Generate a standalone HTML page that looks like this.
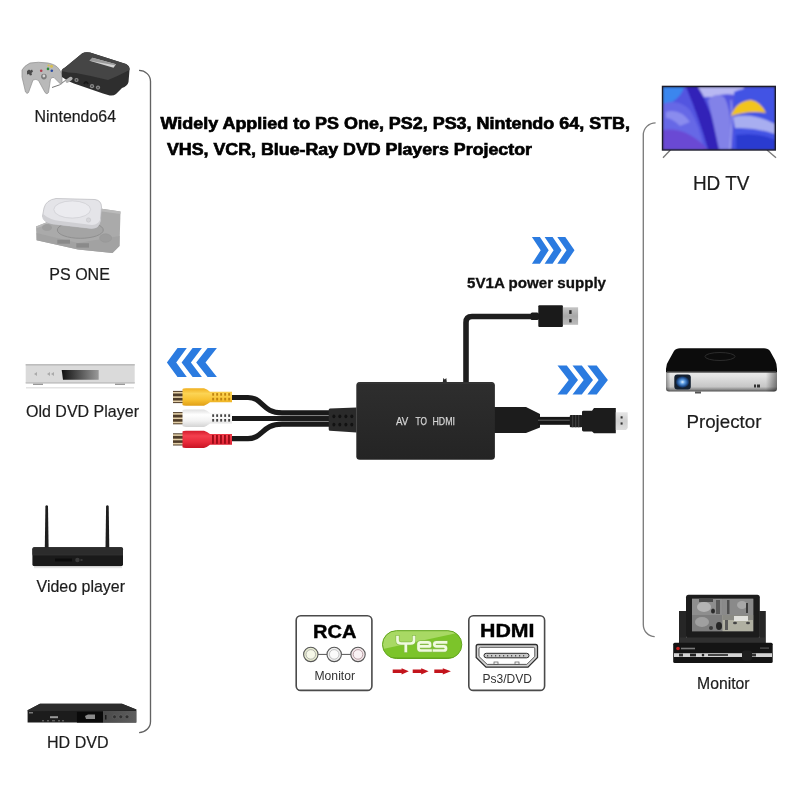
<!DOCTYPE html>
<html><head><meta charset="utf-8">
<style>
html,body{margin:0;padding:0;background:#fff;}
body{width:800px;height:800px;overflow:hidden;position:relative;font-family:"Liberation Sans",sans-serif;}
svg{position:absolute;left:0;top:0;will-change:transform;}
</style></head>
<body>
<svg width="800" height="800" viewBox="0 0 800 800" font-family="Liberation Sans, sans-serif">
<defs>
  <linearGradient id="boxg" x1="0" y1="0" x2="0" y2="1">
    <stop offset="0" stop-color="#2e2e2e"/><stop offset="1" stop-color="#242424"/>
  </linearGradient>
  <linearGradient id="yesg" x1="0" y1="0" x2="0" y2="1">
    <stop offset="0" stop-color="#a6dc5c"/><stop offset="0.5" stop-color="#8ccc3c"/><stop offset="0.55" stop-color="#78c024"/><stop offset="1" stop-color="#62a818"/>
  </linearGradient>
  <linearGradient id="dispg" x1="0" y1="0" x2="1" y2="0">
    <stop offset="0" stop-color="#111"/><stop offset="1" stop-color="#9a9a9a"/>
  </linearGradient>
  <linearGradient id="tvg" x1="0" y1="0" x2="1" y2="1">
    <stop offset="0" stop-color="#5a6af0"/><stop offset="0.5" stop-color="#4a3ed8"/><stop offset="1" stop-color="#3a48e0"/>
  </linearGradient>
  <radialGradient id="lensg" cx="0.5" cy="0.5" r="0.5">
    <stop offset="0" stop-color="#e0f0ff"/><stop offset="0.35" stop-color="#5a9ae0"/><stop offset="0.75" stop-color="#1c4a8a"/><stop offset="1" stop-color="#142030"/>
  </radialGradient>
  <linearGradient id="projs" x1="0" y1="0" x2="0" y2="1">
    <stop offset="0" stop-color="#f4f4f4"/><stop offset="0.35" stop-color="#e2e2e2"/><stop offset="0.8" stop-color="#c6c6c6"/><stop offset="0.92" stop-color="#8a8a8a"/><stop offset="1" stop-color="#505050"/>
  </linearGradient>
  <linearGradient id="projh" x1="0" y1="0" x2="1" y2="0">
    <stop offset="0" stop-color="#000" stop-opacity="0.35"/><stop offset="0.04" stop-color="#000" stop-opacity="0"/><stop offset="0.9" stop-color="#000" stop-opacity="0"/><stop offset="1" stop-color="#000" stop-opacity="0.45"/>
  </linearGradient>
  <filter id="tvblur" x="-5%" y="-5%" width="110%" height="110%"><feGaussianBlur stdDeviation="0.9"/></filter>
  <linearGradient id="yelg" x1="0" y1="0" x2="0" y2="1"><stop offset="0" stop-color="#f0b020"/><stop offset="0.3" stop-color="#fcd454"/><stop offset="0.65" stop-color="#f8c232"/><stop offset="1" stop-color="#e0a018"/></linearGradient>
  <linearGradient id="whig" x1="0" y1="0" x2="0" y2="1"><stop offset="0" stop-color="#e0e0e0"/><stop offset="0.3" stop-color="#ffffff"/><stop offset="0.65" stop-color="#f2f2f2"/><stop offset="1" stop-color="#d4d4d4"/></linearGradient>
  <linearGradient id="redg" x1="0" y1="0" x2="0" y2="1"><stop offset="0" stop-color="#d41c2c"/><stop offset="0.3" stop-color="#f4404e"/><stop offset="0.65" stop-color="#e82a3a"/><stop offset="1" stop-color="#c81424"/></linearGradient>
  <filter id="scrblur" x="-5%" y="-5%" width="110%" height="110%"><feGaussianBlur stdDeviation="0.6"/></filter>
  <linearGradient id="usbm" x1="0" y1="0" x2="0" y2="1"><stop offset="0" stop-color="#c4c4c4"/><stop offset="0.5" stop-color="#a8a8a8"/><stop offset="1" stop-color="#bcbcbc"/></linearGradient>
  <linearGradient id="hdmim" x1="0" y1="0" x2="0" y2="1"><stop offset="0" stop-color="#e6e6e6"/><stop offset="0.5" stop-color="#cfcfcf"/><stop offset="1" stop-color="#dedede"/></linearGradient>
  <linearGradient id="hdpan" x1="0" y1="0" x2="1" y2="0"><stop offset="0" stop-color="#4a4a4a"/><stop offset="1" stop-color="#5e5e5e"/></linearGradient>
</defs>

<!-- brackets -->
<path d="M139,70.4 A11.5,11 0 0 1 150.5,81.4 L150.5,721.4 A11.4,11.2 0 0 1 139.1,732.6" fill="none" stroke="#626262" stroke-width="1.35"/>
<path d="M655.6,122.8 A12.3,12.2 0 0 0 643.3,135 L643.3,624.4 A11.4,12.2 0 0 0 654.7,636.6" fill="none" stroke="#7c7c7c" stroke-width="1.35"/>

<!-- ========== LEFT COLUMN ========== -->
<!-- N64 controller -->
<g>
  <path d="M66,80 Q60,86 52,87.5" fill="none" stroke="#666" stroke-width="0.9"/>
  <path d="M22,70 Q24,66 30,63 Q38,61.5 48,63 Q56,64.5 59,69 Q61,72 62,74 L62,82 Q62,85 60.5,84 L54,77.5 Q52,77 50.5,79 L48.5,92.5 Q47,95 45,92.5 L38.5,80.5 Q36,78.5 33,80 L28.5,92.5 Q27,94.5 25.5,92 L22,77 Z" fill="#b9b9b9" stroke="#8e8e8e" stroke-width="0.7"/>
  <path d="M27,71 l2,-1.5 l1.5,1 l1.5,-1 l1,2 l-1.5,1.5 l0.5,2 l-2,0.5 l-1,-1.5 l-2,0.5 z" fill="#4a4a4a"/>
  <circle cx="41.2" cy="70.8" r="1.3" fill="#b04050"/>
  <circle cx="48" cy="68.9" r="1.3" fill="#2a8a3a"/><circle cx="51.8" cy="70.8" r="1.3" fill="#2a4aa0"/>
  <circle cx="51.5" cy="66.3" r="1.5" fill="#d8c050"/><circle cx="48.5" cy="65.5" r="1.1" fill="#d8c050"/>
  <circle cx="43.9" cy="76.6" r="2.8" fill="#7a7a7a"/><circle cx="43.9" cy="76" r="1.4" fill="#d4d4d4"/>
</g>
<!-- N64 console -->
<g>
  <path d="M61.5,71 Q62,68.5 65,67.5 L82,53.5 Q85,51.5 90,52.5 L126,64 Q130,66 129.5,70 L128.5,82 Q127.5,86 122,88 L116,94 Q113,96.5 108,95 L103,93.5 L74,83.5 Q67,81 62,77 Z" fill="#2e2e2e"/>
  <path d="M61.5,71 Q62,68.5 65,67.5 L82,53.5 Q85,51.5 90,52.5 L126,64 Q130,66 129.5,70 Q118,76 108,80 Q92,76 76,73 Q68,73 61.5,71 Z" fill="#454545"/>
  <path d="M89.5,60.8 L92.5,57.8 L116,64.3 L113.5,67.8 Z" fill="#d2d2d2"/>
  <path d="M89.5,60.8 L92.5,57.8 L116,64.3 L115,65.3 Z" fill="#9a9a9a"/>
  <circle cx="76.5" cy="80" r="2.1" fill="#8a8a8a"/><circle cx="76.5" cy="80" r="0.9" fill="#444"/>
  <circle cx="92" cy="86.2" r="2.1" fill="#8a8a8a"/><circle cx="92" cy="86.2" r="0.9" fill="#444"/>
  <circle cx="98" cy="87.6" r="2.1" fill="#8a8a8a"/><circle cx="98" cy="87.6" r="0.9" fill="#444"/>
  <rect x="65" y="78" width="8" height="3.6" rx="1.8" fill="#b0b0b0" transform="rotate(-35 69 79.8)"/>
  <path d="M84,84 Q86,80 88,84" fill="none" stroke="#1a1a1a" stroke-width="2"/>
</g>
<text x="34.6" y="122" font-size="16.3" fill="#1c1c1c" stroke="#1c1c1c" stroke-width="0.2" textLength="81.4" lengthAdjust="spacingAndGlyphs">Nintendo64</text>

<!-- PS ONE -->
<g>
  <path d="M36,226.5 L60,217 L102,208.7 L120.5,211.5 L119.5,246 L112.5,253 L78,249.5 L36.6,240.3 Z" fill="#aaaaaa"/>
  <path d="M36.6,233 L78,243 L119.6,236 L119.5,246 L112.5,253 L78,249.5 L36.6,240.3 Z" fill="#a2a2a2"/>
  <path d="M36,226.5 L60,217 L102,208.7 L120.5,211.5 L120.3,214 L102,211.5 L60,219 L36,228.5 Z" fill="#bababa"/>
  <ellipse cx="80.3" cy="230" rx="23" ry="8.3" fill="#a4a4a4" stroke="#8c8c8c" stroke-width="0.9"/>
  <ellipse cx="47" cy="227.6" rx="5" ry="3.5" fill="#9e9e9e"/>
  <ellipse cx="105.6" cy="238" rx="6" ry="4.2" fill="#9c9c9c" stroke="#949494" stroke-width="0.5"/>
  <rect x="57.3" y="239.7" width="12.7" height="4" fill="#8a8a8a"/>
  <rect x="76.3" y="243.2" width="12.7" height="4.4" fill="#8a8a8a"/>
  <path d="M44,208 Q46,200 56,198.5 L95,199.5 Q101.5,200.5 101.5,207 L100.5,221 Q99,229 91,228.5 L52,224 Q43,222 42.5,216 Z" fill="#e4e4e8" stroke="#b8b8bc" stroke-width="0.7"/>
  <path d="M43,214 Q50,220 60,221 L92,225 Q99,225 100.7,218 L100.5,221 Q99,229 91,228.5 L52,224 Q43,222 42.5,216 Z" fill="#cfcfd3"/>
  <ellipse cx="72.2" cy="209.5" rx="18.4" ry="8.6" fill="#ebebef" stroke="#c8c8cc" stroke-width="0.6"/>
  <circle cx="88.5" cy="220" r="2.2" fill="#d6d6da" stroke="#bcbcc0" stroke-width="0.4"/>
</g>
<text x="49.3" y="279.7" font-size="16.4" fill="#1c1c1c" stroke="#1c1c1c" stroke-width="0.2" textLength="60.6" lengthAdjust="spacingAndGlyphs">PS ONE</text>

<!-- Old DVD player -->
<g>
  <rect x="26" y="387" width="108" height="1.5" fill="#e4e4e4"/>
  <rect x="33" y="383" width="10" height="2" fill="#999"/><rect x="115" y="383" width="10" height="2" fill="#999"/>
  <rect x="25.7" y="364" width="109" height="19.5" fill="#dadada"/>
  <rect x="25.7" y="364" width="109" height="1.6" fill="#bdbdbd"/>
  <rect x="25.7" y="382" width="109" height="1.5" fill="#c4c4c4"/>
  <path d="M61.7,370 L98.7,370 L98.7,379.7 L63,379.7 Z" fill="url(#dispg)"/>
  <path d="M34,374 l3,-2 l0,4z M47,374 l3,-2 l0,4z M51,374 l3,-2 l0,4z" fill="#aaa"/>
</g>
<text x="26" y="416.7" font-size="16.4" fill="#1c1c1c" stroke="#1c1c1c" stroke-width="0.2" textLength="113" lengthAdjust="spacingAndGlyphs">Old DVD Player</text>

<!-- Video player -->
<g>
  <path d="M45.4,506 Q46.7,504.5 48,506 L48.6,548 L44.8,548 Z" fill="#1e1e1e"/>
  <path d="M106.1,506 Q107.4,504.5 108.7,506 L109.3,548 L105.5,548 Z" fill="#1e1e1e"/>
  <rect x="32.4" y="547.3" width="90.6" height="19" rx="2" fill="#1a1a1a"/>
  <path d="M34,547.3 L121.5,547.3 Q123,547.3 123,549 L123,554.5 L32.4,554.5 L32.4,549 Q32.4,547.3 34,547.3 Z" fill="#2c2c2c"/>
  <rect x="32.4" y="554.5" width="90.6" height="0.8" fill="#3a3a3a"/>
  <path d="M55,558.5 L72,558.5 L72,561.5 L55,561.5 Z" fill="#0c0c0c"/>
  <circle cx="77.4" cy="560" r="2.2" fill="#3a3a3a"/>
  <rect x="80.5" y="559.5" width="2" height="1" fill="#555"/>
  <rect x="34" y="566.6" width="88" height="1.6" fill="#e6e6e6"/>
</g>
<text x="36.6" y="592" font-size="16.4" fill="#1c1c1c" stroke="#1c1c1c" stroke-width="0.2" textLength="88.4" lengthAdjust="spacingAndGlyphs">Video player</text>

<!-- HD DVD -->
<g>
  <path d="M27.6,710.3 L40,703.8 L122,703.8 L136.3,709.6 L136.3,722.6 L27.6,722.6 Z" fill="#1c1c1c"/>
  <path d="M27.6,710.3 L40,703.8 L122,703.8 L136.3,709.6 L136.3,710.6 L27.6,711.2 Z" fill="#2c2c2c"/>
  <rect x="76.9" y="711.8" width="26.1" height="10.8" fill="#0a0a0a"/>
  <rect x="103" y="711" width="33.3" height="11.6" fill="url(#hdpan)"/>
  <circle cx="114.5" cy="716.8" r="1.9" fill="#303030" stroke="#777" stroke-width="0.4"/>
  <circle cx="120.8" cy="716.8" r="1.9" fill="#303030" stroke="#777" stroke-width="0.4"/>
  <circle cx="127" cy="716.8" r="1.9" fill="#303030" stroke="#777" stroke-width="0.4"/>
  <rect x="105" y="715" width="1.5" height="4.5" fill="#1a1a1a"/>
  <path d="M85,716 L88,714.5 L95,714.5 L95,719 L86,719 Z" fill="#8a8a8a"/>
  <rect x="50" y="716.2" width="8" height="2" fill="#9a9a9a"/>
  <rect x="29" y="712" width="4" height="1.5" fill="#777"/>
  <g fill="#777"><rect x="42" y="720.3" width="2" height="1"/><rect x="47" y="720.3" width="2" height="1"/><rect x="52" y="720.3" width="3" height="1"/><rect x="58" y="720.3" width="2" height="1"/><rect x="62" y="720.3" width="2" height="1"/></g>
</g>
<text x="47" y="748" font-size="16.4" fill="#1c1c1c" stroke="#1c1c1c" stroke-width="0.2" textLength="61.6" lengthAdjust="spacingAndGlyphs">HD DVD</text>

<!-- ========== TITLE ========== -->
<text x="160.5" y="129" font-size="16" font-weight="bold" fill="#000" stroke="#000" stroke-width="0.65" textLength="469.5" lengthAdjust="spacingAndGlyphs">Widely Applied to PS One, PS2, PS3, Nintendo 64, STB,</text>
<text x="167" y="155.3" font-size="16" font-weight="bold" fill="#000" stroke="#000" stroke-width="0.65" textLength="365" lengthAdjust="spacingAndGlyphs">VHS, VCR, Blue-Ray DVD Players Projector</text>

<!-- ========== CENTER ========== -->
<!-- blue chevrons top -->
<g fill="#2b7be0">
<path d="M531.9,236.9 L539.9,236.9 L548.7,250.30 L539.9,263.7 L531.9,263.7 L540.7,250.30 Z"/>
<path d="M544.6,236.9 L552.6,236.9 L561.6,250.30 L552.6,263.7 L544.6,263.7 L553.6,250.30 Z"/>
<path d="M557.3,236.9 L565.3,236.9 L574.5,250.30 L565.3,263.7 L557.3,263.7 L566.5,250.30 Z"/>
</g>
<text x="467" y="288" font-size="15" font-weight="bold" fill="#111" stroke="#111" stroke-width="0.3" textLength="139" lengthAdjust="spacingAndGlyphs">5V1A power supply</text>

<!-- power cable -->
<path d="M466,382 L466,322.5 Q466,316.5 472,316.5 L540,316.5" fill="none" stroke="#1e1e1e" stroke-width="5.6"/>
<rect x="530.6" y="312.6" width="8" height="7.4" rx="1.5" fill="#1c1c1c"/>
<rect x="538.3" y="305.3" width="24.6" height="21.8" rx="1" fill="#1a1a1a"/>
<rect x="562.9" y="307.3" width="15.2" height="17.5" fill="url(#usbm)"/>
<rect x="569.2" y="310.2" width="2.4" height="3.7" fill="#2a2a2a"/><rect x="569.2" y="319.1" width="2.4" height="3.3" fill="#2a2a2a"/>

<!-- left chevrons -->
<g fill="#2b7be0">
<path d="M186.8,348.1 L177.5,348.1 L166.9,362.55 L177.5,377 L186.8,377 L176.2,362.55 Z"/>
<path d="M201.9,348.1 L192.6,348.1 L181.6,362.55 L192.6,377 L201.9,377 L190.9,362.55 Z"/>
<path d="M216.9,348.1 L207.6,348.1 L196.2,362.55 L207.6,377 L216.9,377 L205.5,362.55 Z"/>
</g>
<!-- right chevrons -->
<g fill="#2b7be0">
<path d="M557.5,365.5 L566.8,365.5 L578.0,380.05 L566.8,394.6 L557.5,394.6 L568.7,380.05 Z"/>
<path d="M572.5,365.5 L581.8,365.5 L593.0,380.05 L581.8,394.6 L572.5,394.6 L583.7,380.05 Z"/>
<path d="M587.4,365.5 L596.7,365.5 L607.9,380.05 L596.7,394.6 L587.4,394.6 L598.6,380.05 Z"/>
</g>

<!-- RCA cables -->
<g fill="none" stroke="#1a1a1a" stroke-width="5.2">
  <path d="M230,397.5 L248,397.5 C263,397.5 262,412.9 282,412.9 L332,412.9"/>
  <path d="M230,418.5 L332,418.5"/>
  <path d="M230,438.6 L248,438.6 C263,438.6 262,424.1 282,424.1 L332,424.1"/>
</g>
<g fill="none" stroke="#555" stroke-width="0.5" opacity="0.6">
  <path d="M290,415.7 L329,415.7"/><path d="M290,421.3 L329,421.3"/>
</g>
<!-- RCA plugs -->
<g>
  <rect x="173" y="390.9" width="10.5" height="12.2" fill="#4e3c28"/>
  <rect x="173" y="391.9" width="10.5" height="1.6" fill="#e4d0a8"/>
  <rect x="173" y="396.3" width="10.5" height="1.6" fill="#e4d0a8"/>
  <rect x="173" y="400.5" width="10.5" height="1.6" fill="#e4d0a8"/>
  <path d="M182.5,389.1 Q183,388.3 186,388.3 L204,388.3 Q207,389.3 210,391.7 L232,391.7 L232,402.3 L210,402.3 Q207,404.7 204,405.7 L186,405.7 Q183,405.7 182.5,404.9 Z" fill="url(#yelg)"/>
  <rect x="212.2" y="393.1" width="1.9" height="2.6" fill="#c08410"/>
  <rect x="212.2" y="397.8" width="1.9" height="2.6" fill="#c08410"/>
  <rect x="216.2" y="393.1" width="1.9" height="2.6" fill="#c08410"/>
  <rect x="216.2" y="397.8" width="1.9" height="2.6" fill="#c08410"/>
  <rect x="220.2" y="393.1" width="1.9" height="2.6" fill="#c08410"/>
  <rect x="220.2" y="397.8" width="1.9" height="2.6" fill="#c08410"/>
  <rect x="224.2" y="393.1" width="1.9" height="2.6" fill="#c08410"/>
  <rect x="224.2" y="397.8" width="1.9" height="2.6" fill="#c08410"/>
  <rect x="228.2" y="393.1" width="1.9" height="2.6" fill="#c08410"/>
  <rect x="228.2" y="397.8" width="1.9" height="2.6" fill="#c08410"/>
  <rect x="173" y="412.1" width="10.5" height="12.2" fill="#4e3c28"/>
  <rect x="173" y="413.1" width="10.5" height="1.6" fill="#e4d0a8"/>
  <rect x="173" y="417.5" width="10.5" height="1.6" fill="#e4d0a8"/>
  <rect x="173" y="421.7" width="10.5" height="1.6" fill="#e4d0a8"/>
  <path d="M182.5,410.3 Q183,409.5 186,409.5 L204,409.5 Q207,410.5 210,412.9 L232,412.9 L232,423.5 L210,423.5 Q207,425.9 204,426.9 L186,426.9 Q183,426.9 182.5,426.1 Z" fill="url(#whig)"/>
  <rect x="212.2" y="414.3" width="1.9" height="2.6" fill="#444444"/>
  <rect x="212.2" y="419.0" width="1.9" height="2.6" fill="#444444"/>
  <rect x="216.2" y="414.3" width="1.9" height="2.6" fill="#444444"/>
  <rect x="216.2" y="419.0" width="1.9" height="2.6" fill="#444444"/>
  <rect x="220.2" y="414.3" width="1.9" height="2.6" fill="#444444"/>
  <rect x="220.2" y="419.0" width="1.9" height="2.6" fill="#444444"/>
  <rect x="224.2" y="414.3" width="1.9" height="2.6" fill="#444444"/>
  <rect x="224.2" y="419.0" width="1.9" height="2.6" fill="#444444"/>
  <rect x="228.2" y="414.3" width="1.9" height="2.6" fill="#444444"/>
  <rect x="228.2" y="419.0" width="1.9" height="2.6" fill="#444444"/>
  <rect x="173" y="433.3" width="10.5" height="12.2" fill="#4e3c28"/>
  <rect x="173" y="434.3" width="10.5" height="1.6" fill="#e4d0a8"/>
  <rect x="173" y="438.7" width="10.5" height="1.6" fill="#e4d0a8"/>
  <rect x="173" y="442.9" width="10.5" height="1.6" fill="#e4d0a8"/>
  <path d="M182.5,431.5 Q183,430.7 186,430.7 L204,430.7 Q207,431.7 210,434.1 L232,434.1 L232,444.7 L210,444.7 Q207,447.1 204,448.1 L186,448.1 Q183,448.1 182.5,447.3 Z" fill="url(#redg)"/>
  <rect x="212" y="435.0" width="1.9" height="8.8" fill="#9c0c18"/>
  <rect x="216" y="435.0" width="1.9" height="8.8" fill="#9c0c18"/>
  <rect x="220" y="435.0" width="1.9" height="8.8" fill="#9c0c18"/>
  <rect x="224" y="435.0" width="1.9" height="8.8" fill="#9c0c18"/>
  <rect x="228" y="435.0" width="1.9" height="8.8" fill="#9c0c18"/>
</g>
<!-- left strain relief -->
<path d="M330,408.4 L356.5,407.4 L356.5,432.5 L330,430.8 Q328.7,430.8 328.7,429.3 L328.7,409.9 Q328.7,408.4 330,408.4 Z" fill="#2a2a2a"/>
<g fill="#121212"><ellipse cx="333.9" cy="416.3" rx="1.5" ry="1.9"/><ellipse cx="333.9" cy="424.6" rx="1.5" ry="1.9"/><ellipse cx="339.8" cy="416.3" rx="1.5" ry="1.9"/><ellipse cx="339.8" cy="424.6" rx="1.5" ry="1.9"/><ellipse cx="345.9" cy="416.3" rx="1.5" ry="1.9"/><ellipse cx="345.9" cy="424.6" rx="1.5" ry="1.9"/><ellipse cx="351.8" cy="416.3" rx="1.5" ry="1.9"/><ellipse cx="351.8" cy="424.6" rx="1.5" ry="1.9"/></g>

<!-- right strain relief + HDMI -->
<path d="M494,407 L526,407 L540,414 L540,427.4 L526,433 L494,433 Z" fill="#1c1c1c"/>
<rect x="538" y="416.9" width="33" height="7.9" fill="#161616"/>
<rect x="538" y="419.6" width="33" height="1.4" fill="#4a4a4a"/>
<rect x="569.8" y="415" width="12.4" height="12.2" rx="1" fill="#1e1e1e"/>
<g fill="#3c3c3c"><rect x="572" y="415" width="1.3" height="12.2"/><rect x="575" y="415" width="1.3" height="12.2"/><rect x="578" y="415" width="1.3" height="12.2"/></g>
<path d="M582,412 Q582,410.8 583.5,410.8 L592,410.8 L594,408 L615.8,408 L615.8,433.3 L594,433.3 L592,431.4 L583.5,431.4 Q582,431.4 582,430 Z" fill="#1c1c1c"/>
<path d="M615.8,412.2 L627.7,412.2 L627.7,428 L626,430 L615.8,430 Z" fill="url(#hdmim)"/>
<rect x="620.6" y="416.3" width="2" height="2.2" fill="#333"/><rect x="620.6" y="422.4" width="2" height="2.2" fill="#333"/>

<!-- converter box -->
<path d="M442.8,382.2 L443.3,378 L444.8,379.6 L446.3,378 L446.8,382.2 Z" fill="#2a2a2a"/>
<rect x="356.3" y="382" width="138.6" height="77.8" rx="3.5" fill="url(#boxg)"/>
<rect x="357.5" y="382.6" width="136" height="1.2" rx="0.6" fill="#3c3c3c" opacity="0.7"/>
<g font-size="11.5" fill="#d6d6d6" stroke="#d6d6d6" stroke-width="0.25">
<text x="396" y="424.7" textLength="12.2" lengthAdjust="spacingAndGlyphs">AV</text>
<text x="415.6" y="424.7" textLength="11.4" lengthAdjust="spacingAndGlyphs">TO</text>
<text x="432.5" y="424.7" textLength="22.5" lengthAdjust="spacingAndGlyphs">HDMI</text>
</g>

<!-- ========== BOTTOM CENTER ========== -->
<rect x="296.2" y="615.7" width="75.7" height="74.7" rx="4.5" fill="#fff" stroke="#4a4a4a" stroke-width="1.6"/>
<text x="313" y="637.6" font-size="18.5" font-weight="bold" fill="#000" stroke="#000" stroke-width="0.4" textLength="43.4" lengthAdjust="spacingAndGlyphs">RCA</text>
<line x1="318" y1="654.4" x2="351" y2="654.4" stroke="#555" stroke-width="1"/>
<circle cx="310.8" cy="654.4" r="7.2" fill="#e9edd2" stroke="#555" stroke-width="1.1"/>
<circle cx="310.8" cy="654.4" r="4.8" fill="#f6f8e8" stroke="#999" stroke-width="0.7"/>
<circle cx="334.2" cy="654.4" r="7.2" fill="#f0f0f0" stroke="#555" stroke-width="1.1"/>
<circle cx="334.2" cy="654.4" r="4.8" fill="#fafafa" stroke="#aaa" stroke-width="0.7"/>
<circle cx="358" cy="654.4" r="7.2" fill="#f3e8ea" stroke="#555" stroke-width="1.1"/>
<circle cx="358" cy="654.4" r="4.8" fill="#faf2f4" stroke="#a08088" stroke-width="0.7"/>
<text x="314.5" y="680.3" font-size="12.2" fill="#333" textLength="40.5" lengthAdjust="spacingAndGlyphs">Monitor</text>

<rect x="468.8" y="615.7" width="75.8" height="74.7" rx="4.5" fill="#fff" stroke="#4a4a4a" stroke-width="1.6"/>
<text x="480" y="637.3" font-size="18.5" font-weight="bold" fill="#000" stroke="#000" stroke-width="0.4" textLength="54.5" lengthAdjust="spacingAndGlyphs">HDMI</text>
<path d="M478,644.5 L535.5,644.5 Q537.5,644.5 537.5,646.5 L537.5,657.5 L528,667.2 L486,667.2 L476.2,657.5 L476.2,646.5 Q476.2,644.5 478,644.5 Z" fill="#d4d4d4" stroke="#2e2e2e" stroke-width="1.3"/>
<path d="M480.5,647.3 L533.3,647.3 Q534.8,647.3 534.8,648.8 L534.8,656.5 L526.8,664.4 L487.2,664.4 L479,656.5 L479,648.8 Q479,647.3 480.5,647.3 Z" fill="#fff" stroke="#444" stroke-width="0.9"/>
<rect x="484" y="653.3" width="45" height="4.5" rx="2.25" fill="#c8c8c8" stroke="#2a2a2a" stroke-width="1"/>
<g fill="#555"><rect x="487" y="655" width="1.2" height="1.5"/><rect x="491" y="655" width="1.2" height="1.5"/><rect x="495" y="655" width="1.2" height="1.5"/><rect x="499" y="655" width="1.2" height="1.5"/><rect x="503" y="655" width="1.2" height="1.5"/><rect x="507" y="655" width="1.2" height="1.5"/><rect x="511" y="655" width="1.2" height="1.5"/><rect x="515" y="655" width="1.2" height="1.5"/><rect x="519" y="655" width="1.2" height="1.5"/><rect x="523" y="655" width="1.2" height="1.5"/></g>
<rect x="494" y="662" width="4" height="2.5" fill="none" stroke="#555" stroke-width="0.7"/>
<rect x="515" y="662" width="4" height="2.5" fill="none" stroke="#555" stroke-width="0.7"/>
<text x="482.5" y="683.1" font-size="12.2" fill="#333" textLength="49.5" lengthAdjust="spacingAndGlyphs">Ps3/DVD</text>

<!-- Yes pill -->
<clipPath id="pillclip"><rect x="382.5" y="630.7" width="79.3" height="27.8" rx="13.9"/></clipPath>
<rect x="382.5" y="630.7" width="79.3" height="27.8" rx="13.9" fill="#7cc42a"/>
<g clip-path="url(#pillclip)">
  <path d="M380,628 L462,628 L462,632 L383,649 L380,649 Z" fill="#a8d964"/>
  <path d="M380,657 L465,657 L465,662 L380,662 Z" fill="#66aa1e" opacity="0.6"/>
</g>
<rect x="382.5" y="630.7" width="79.3" height="27.8" rx="13.9" fill="none" stroke="#62a41e" stroke-width="1"/>
<g fill="none" stroke-linecap="square" stroke-linejoin="round">
  <path d="M397.5,637 L397.5,640.5 Q397.5,643.5 401,643.5 L410.5,643.5 Q414,643.5 414,640.5 L414,637 M405.8,643.5 L405.8,651 M418.5,646.3 L430,646.3 L430,644 Q430,642.3 428,642.3 L420.5,642.3 Q418.5,642.3 418.5,644.5 L418.5,648.5 Q418.5,650.5 421,650.5 L430.5,650.5 M446,642.3 L436.5,642.3 Q434.3,642.3 434.3,644.3 Q434.3,646.3 436.5,646.3 L443.8,646.3 Q446,646.3 446,648.4 Q446,650.5 443.8,650.5 L434,650.5" stroke="#86bb48" stroke-width="3.9"/>
  <path d="M397.5,637 L397.5,640.5 Q397.5,643.5 401,643.5 L410.5,643.5 Q414,643.5 414,640.5 L414,637 M405.8,643.5 L405.8,651 M418.5,646.3 L430,646.3 L430,644 Q430,642.3 428,642.3 L420.5,642.3 Q418.5,642.3 418.5,644.5 L418.5,648.5 Q418.5,650.5 421,650.5 L430.5,650.5 M446,642.3 L436.5,642.3 Q434.3,642.3 434.3,644.3 Q434.3,646.3 436.5,646.3 L443.8,646.3 Q446,646.3 446,648.4 Q446,650.5 443.8,650.5 L434,650.5" stroke="#f0fadf" stroke-width="2.7"/>
</g>
<!-- red arrows -->
<g fill="#c3141c">
<path d="M392.7,669.6 L401.6,669.6 L401.6,668.2 L408.8,671.3 L401.6,674.4 L401.6,673.0 L392.7,673.0 Z"/>
<path d="M412.7,669.6 L421.2,669.6 L421.2,668.2 L428.6,671.3 L421.2,674.4 L421.2,673.0 L412.7,673.0 Z"/>
<path d="M434.3,669.6 L442.8,669.6 L442.8,668.2 L450.9,671.3 L442.8,674.4 L442.8,673.0 L434.3,673.0 Z"/>
</g>

<!-- ========== RIGHT COLUMN ========== -->
<!-- TV -->
<clipPath id="tvclip"><rect x="663" y="87" width="111.8" height="62.4"/></clipPath>
<g>
  <path d="M670.4,150 L663,157.7" stroke="#777" stroke-width="1.3"/>
  <path d="M767,150 L776,157.7" stroke="#777" stroke-width="1.3"/>
  <rect x="661.8" y="85.7" width="114.2" height="65" fill="#1c1c2c"/>
  <g clip-path="url(#tvclip)"><g filter="url(#tvblur)">
    <rect x="663" y="87" width="111.8" height="62.4" fill="#5254e0"/>
    <path d="M663,87 L684,87 Q682,96 672,102 L663,104 Z" fill="#3a86ee"/>
    <path d="M663,104 Q678,98 690,110 Q700,126 704,149.4 L663,149.4 Z" fill="#6668e6"/>
    <path d="M666,112 Q680,108 690,122 L680,126 Q672,118 666,118 Z" fill="#8a8cee"/>
    <path d="M663,130 Q686,126 708,149.4 L663,149.4 Z" fill="#6a48d4"/>
    <path d="M686,87 L699,87 Q712,116 726,149.4 L708,149.4 Q699,118 686,87 Z" fill="#3222b8"/>
    <path d="M698,87 L744,87 L740,96 Q725,92 712,97 L704,97 Z" fill="#b8b8f2"/>
    <path d="M708,100 Q716,92 724,97 Q732,108 731,149.4 L719,149.4 Q714,126 708,100 Z" fill="#8282e8"/>
    <path d="M730,149.4 Q733,120 731,100" fill="none" stroke="#c0c4f4" stroke-width="0.8"/>
    <path d="M734,92 Q745,86 775,88 L775,149.4 L733,149.4 Q736,120 734,92 Z" fill="#4252e4"/>
    <path d="M731,116 Q736,101 751,100 Q761,102 766,113 Q750,110 731,116 Z" fill="#f2c41c"/>
    <path d="M733,117 Q752,112 775,124 L775,134 Q755,127 735,128 Z" fill="#a8aef0"/>
    <path d="M736,135 Q760,132 775,140 L775,149.4 L736,149.4 Z" fill="#2c3ad0"/>
  </g></g>
</g>
<text x="692.9" y="189.6" font-size="19.4" fill="#1c1c1c" stroke="#1c1c1c" stroke-width="0.2" textLength="56.6" lengthAdjust="spacingAndGlyphs">HD TV</text>

<!-- Projector -->
<g>
  <rect x="666" y="368" width="111" height="23.5" rx="3" fill="url(#projs)"/>
  <rect x="666" y="368" width="111" height="23.5" rx="3" fill="url(#projh)"/>
  <path d="M666,369 Q666,364 669,360 L674,351 Q676,348.2 680,348.2 L764,348.2 Q768,348.2 770,351 L775,360 Q777,364 777,369 L777,372.3 L666,372.3 Z" fill="#0c0c0c"/>
  <path d="M667,371 L776,371 L776,372.6 L667,372.6 Z" fill="#3a3a3a"/>
  <ellipse cx="720" cy="356.5" rx="15" ry="4" fill="none" stroke="#2c2c2c" stroke-width="1"/>
  <rect x="674.3" y="374.5" width="16.5" height="15" rx="3" fill="#142030"/>
  <ellipse cx="682.5" cy="382" rx="7" ry="6" fill="url(#lensg)"/>
  <path d="M754,384.5 l2,0 l0,3 l-2,0z M757,384.5 l3,0 l0,3 l-3,0z" fill="#333"/>
  <rect x="695" y="391.5" width="6" height="2" fill="#555"/>
</g>
<text x="686.4" y="427.6" font-size="18.9" fill="#1c1c1c" stroke="#1c1c1c" stroke-width="0.2" textLength="75" lengthAdjust="spacingAndGlyphs">Projector</text>

<!-- Monitor DVR -->
<clipPath id="scrclip"><rect x="692" y="598.5" width="61.5" height="33"/></clipPath>
<g>
  <rect x="679" y="611" width="7.5" height="33" fill="#262626"/>
  <rect x="759.3" y="611" width="6.5" height="33" fill="#262626"/>
  <rect x="686" y="594.7" width="73.8" height="43.5" rx="2.5" fill="#1c1c1c"/>
  <g clip-path="url(#scrclip)"><g filter="url(#scrblur)">
    <rect x="692" y="598.5" width="61.5" height="33" fill="#858585"/>
    <rect x="692" y="598.5" width="30.5" height="16.5" fill="#8e8e8e"/>
    <ellipse cx="704" cy="607" rx="7" ry="5" fill="#b4b4b4"/>
    <rect x="699" y="599" width="14" height="3" fill="#4a4a4a"/>
    <ellipse cx="713" cy="611" rx="2" ry="2.5" fill="#2a2a2a"/>
    <rect x="716" y="600" width="4" height="14" fill="#5a5a5a"/>
    <rect x="722.5" y="598.5" width="31" height="16.5" fill="#8a8a8a"/>
    <rect x="727" y="600" width="2.5" height="14" fill="#505050"/>
    <ellipse cx="742" cy="605" rx="5" ry="4" fill="#a8a8a8"/>
    <rect x="746" y="603" width="2" height="10" fill="#3a3a3a"/>
    <rect x="692" y="615" width="30.5" height="16.5" fill="#7e7e7e"/>
    <ellipse cx="702" cy="622" rx="7" ry="5" fill="#a0a0a0"/>
    <ellipse cx="719" cy="626" rx="3" ry="4" fill="#262626"/>
    <ellipse cx="711" cy="628" rx="2" ry="2" fill="#3a3a3a"/>
    <rect x="722.5" y="615" width="31" height="16.5" fill="#b0b0a2"/>
    <rect x="722.5" y="615" width="31" height="5" fill="#8a8a84"/>
    <rect x="734" y="616" width="14" height="5" fill="#e0e0dc"/>
    <rect x="725" y="620" width="3" height="10" fill="#5a5a5a"/>
    <ellipse cx="735" cy="623" rx="2" ry="1.2" fill="#444"/>
    <ellipse cx="748" cy="623" rx="2" ry="1.2" fill="#444"/>
  </g></g>
  <rect x="680" y="637.5" width="85" height="6" fill="#303030"/>
  <rect x="673.2" y="642.7" width="99.5" height="20.3" rx="1.5" fill="#141414"/>
  <rect x="674" y="653.2" width="98" height="3.8" fill="#d4d4d4"/>
  <rect x="679" y="653.6" width="4" height="2.8" fill="#333"/>
  <rect x="690" y="653.6" width="6" height="2.8" fill="#222"/>
  <circle cx="703" cy="655.1" r="1.3" fill="#222"/>
  <rect x="708" y="654" width="20" height="2" fill="#444"/>
  <rect x="751" y="653.6" width="5" height="2.8" fill="#333"/>
  <rect x="742" y="650.5" width="10" height="10" rx="2.5" fill="#1e1e1e"/>
  <circle cx="678" cy="648.5" r="1.8" fill="#c41e1e"/>
  <rect x="681" y="647.7" width="14" height="1.6" fill="#7a7a7a"/>
  <rect x="760" y="647.5" width="9" height="1.2" fill="#555"/>
</g>
<text x="697.1" y="688.8" font-size="16.5" fill="#1c1c1c" stroke="#1c1c1c" stroke-width="0.2" textLength="52.5" lengthAdjust="spacingAndGlyphs">Monitor</text>

</svg>
</body></html>
